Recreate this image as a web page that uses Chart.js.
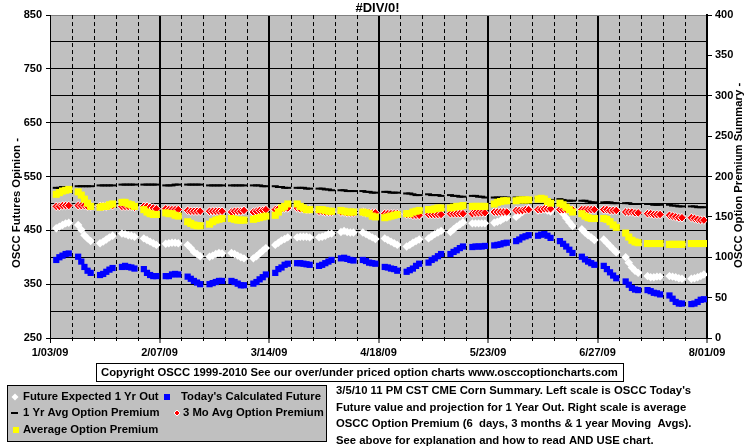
<!DOCTYPE html>
<html>
<head>
<meta charset="utf-8">
<script src="https://cdn.jsdelivr.net/npm/chart.js"></script>
<style>
  html, body { margin: 0; padding: 0; background: #fff; }
  #wrap { width: 755px; height: 446px; position: relative; }
</style>
</head>
<body>
<div id="wrap"><canvas id="oscc"></canvas></div>
<script>
// x axis: days since 1/03/09, weekly grid, labels every 5 weeks
const startDate = new Date(2009, 0, 3);
const totalDays = 210;
const xTickLabels = ['1/03/09', '2/07/09', '3/14/09', '4/18/09', '5/23/09', '6/27/09', '8/01/09'];
const leftTicks = [250, 850, 50];   // min, max, step
const rightTicks = [0, 400, 50];

// trading days (Mon-Fri) between the first and last label
const tradingDays = [];
for (let d = 0; d <= totalDays; d++) {
    const dt = new Date(startDate.getTime() + d * 86400000);
    const wd = dt.getDay();
    if (wd >= 1 && wd <= 5) tradingDays.push(d);
}

// left scale
const futureExpected = [
    454, 457, 460, 463, 464,  460, 451, 441, 435, 430,  426, 429, 433, 437, 440,  444, 443, 441, 440, 438,  435, 432, 429, 426, 423,
    425, 426, 427, 427, 426,  423, 417, 410, 406, 402,  401, 403, 406, 408, 407,  408, 406, 403, 400, 398,  398, 402, 407, 412, 417,
    423, 427, 431, 434, 437,  437, 438, 438, 438, 437,  437, 438, 440, 443, 444,  447, 449, 447, 446, 446,  446, 443, 440, 437, 434,
    435, 432, 429, 426, 423,  420, 423, 427, 430, 433,  435, 439, 443, 446, 449,  447, 452, 457, 461, 465,  463, 463, 463, 463, 463,
    464, 466, 468, 472, 474,  475, 480, 484, 488, 491,  487, 489, 489, 487, 485,  489, 481, 473, 465, 458,  452, 446, 441, 437, 432,
    433, 427, 421, 415, 409,  400, 390, 381, 375, 371,  365, 363, 363, 364, 364,  365, 364, 363, 361, 360,  360, 361, 363, 365, 368
];
const todaysFuture = [
    395, 400, 403, 406, 407,  401, 392, 382, 375, 371,  367, 369, 373, 377, 380,  382, 384, 382, 381, 379,  378, 371, 367, 365, 365,
    365, 365, 368, 369, 368,  364, 360, 356, 353, 350,  350, 352, 354, 356, 356,  356, 354, 351, 348, 348,  351, 354, 359, 363, 368,
    371, 378, 381, 386, 388,  389, 389, 388, 387, 386,  384, 386, 389, 392, 395,  398, 399, 397, 395, 394,  395, 393, 390, 389, 388,
    382, 381, 379, 378, 375,  373, 376, 379, 384, 388,  390, 395, 398, 402, 406,  406, 410, 413, 417, 420,  419, 420, 420, 420, 421,
    422, 423, 424, 426, 427,  430, 433, 437, 439, 441,  440, 442, 443, 440, 436,  430, 425, 420, 414, 408,  401, 396, 392, 389, 386,
    384, 378, 372, 366, 361,  355, 349, 343, 340, 339,  339, 337, 334, 333, 331,  329, 323, 317, 314, 314,  313, 314, 317, 321, 322
];
// right scale
const yearAvgPremium = [
    186, 186, 187, 187, 187,  188, 188, 188, 188, 188,  189, 189, 189, 189, 189,  190, 190, 190, 190, 190,  190, 190, 190, 190, 190,
    189, 189, 189, 190, 190,  190, 190, 190, 190, 190,  189, 189, 189, 189, 189,  189, 189, 189, 189, 189,  189, 189, 189, 188, 188,
    188, 187, 187, 186, 186,  186, 186, 186, 185, 185,  185, 185, 184, 184, 183,  183, 183, 182, 182, 182,  182, 181, 181, 180, 180,
    181, 181, 180, 180, 180,  179, 179, 178, 177, 177,  178, 177, 177, 177, 176,  177, 176, 176, 175, 175,  176, 176, 175, 175, 174,
    174, 174, 174, 174, 174,  174, 174, 174, 173, 173,  173, 173, 172, 172, 171,  172, 171, 170, 170, 170,  170, 170, 169, 168, 168,
    168, 168, 168, 167, 167,  167, 167, 166, 166, 166,  166, 166, 165, 165, 165,  165, 164, 164, 163, 163,  163, 163, 162, 162, 162
];
const moAvgPremium = [
    163, 163, 164, 164, 164,  164, 164, 164, 163, 163,  163, 163, 163, 164, 164,  163, 163, 163, 163, 162,  163, 163, 162, 161, 160,
    160, 159, 159, 159, 159,  158, 157, 157, 157, 157,  157, 157, 157, 157, 157,  156, 157, 157, 157, 158,  156, 157, 158, 158, 159,
    159, 160, 160, 161, 161,  161, 160, 160, 159, 159,  157, 157, 156, 156, 156,  156, 156, 155, 155, 155,  156, 155, 155, 155, 155,
    154, 154, 154, 154, 154,  153, 153, 152, 152, 152,  153, 153, 153, 153, 153,  154, 154, 154, 154, 154,  154, 155, 155, 155, 155,
    156, 156, 156, 156, 156,  158, 158, 158, 159, 159,  159, 159, 160, 160, 160,  159, 159, 159, 159, 159,  159, 159, 159, 159, 159,
    159, 159, 158, 158, 158,  156, 156, 156, 155, 155,  154, 154, 153, 153, 153,  152, 151, 150, 149, 149,  149, 148, 147, 146, 146
];
const avgPremium = [
    178, 180, 182, 183, 184,  181, 177, 172, 167, 163,  162, 163, 163, 165, 166,  168, 168, 166, 165, 163,  159, 156, 154, 153, 153,
    155, 154, 154, 152, 151,  144, 142, 140, 139, 139,  141, 144, 146, 147, 148,  148, 147, 146, 146, 146,  147, 148, 149, 150, 151,
    152, 156, 161, 163, 166,  166, 163, 161, 159, 159,  159, 159, 158, 157, 157,  158, 157, 156, 156, 156,  156, 155, 154, 151, 150,
    149, 150, 151, 152, 153,  154, 154, 156, 157, 158,  159, 159, 160, 161, 161,  161, 162, 163, 163, 164,  163, 163, 163, 163, 163,
    166, 168, 169, 170, 170,  170, 171, 171, 171, 171,  172, 173, 172, 169, 167,  167, 165, 162, 159, 156,  154, 151, 149, 148, 148,
    148, 147, 144, 140, 137,  130, 125, 121, 119, 118,  117, 117, 117, 117, 117,  116, 116, 116, 116, 116,  117, 117, 117, 117, 117
];

const titleText = '#DIV/0!';
const leftTitle = 'OSCC Futures Opinion -';
const rightTitle = 'OSCC Option Premium Summary -';
const copyrightText = 'Copyright OSCC 1999-2010 See our over/under priced option charts www.osccoptioncharts.com';
const noteLines = [
    "3/5/10 11 PM CST CME Corn Summary. Left scale is OSCC Today's",
    'Future value and projection for 1 Year Out. Right scale is average',
    'OSCC Option Premium (6  days, 3 months & 1 year Moving  Avgs).',
    'See above for explanation and how to read AND USE chart.'
];

const FONT = '"Liberation Sans", Arial, sans-serif';
const TEXT_FONT = 'bold 11.3px ' + FONT;
const PLOT_BG = '#c0c0c0';

function pts(values) {
    return tradingDays.map((d, i) => ({ x: d, y: values[i] }));
}

// drawn last = on top, so list the top-most series first
const datasets = [
    { label: 'Average Option Premium', data: pts(avgPremium), yAxisID: 'yR',
      pointStyle: 'rect', pointRadius: 5, backgroundColor: '#ffff00', borderColor: '#ffff00', borderWidth: 0 },
    { label: '3 Mo Avg Option Premium', data: pts(moAvgPremium), yAxisID: 'yR',
      pointStyle: 'rectRot', pointRadius: 4.3, backgroundColor: '#ff0000', borderColor: '#ffffff', borderWidth: 1 },
    { label: '1 Yr Avg Option Premium', data: pts(yearAvgPremium), yAxisID: 'yR',
      pointStyle: 'line', pointRadius: 3.5, backgroundColor: '#000000', borderColor: '#000000', borderWidth: 2 },
    { label: "Today's Calculated Future", data: pts(todaysFuture), yAxisID: 'y',
      pointStyle: 'rect', pointRadius: 4.4, backgroundColor: '#0000ff', borderColor: '#0000ff', borderWidth: 0 },
    { label: 'Future Expected 1 Yr Out', data: pts(futureExpected), yAxisID: 'y',
      pointStyle: 'rectRot', pointRadius: 4.2, backgroundColor: '#ffffff', borderColor: '#ffffff', borderWidth: 0 }
];

const ossPlugin = {
    id: 'osccDecor',
    beforeDraw(chart) {
        const ctx = chart.ctx;
        const a = chart.chartArea;
        ctx.save();
        ctx.fillStyle = '#ffffff';
        ctx.fillRect(0, 0, chart.width, chart.height);
        ctx.fillStyle = PLOT_BG;
        ctx.fillRect(a.left, a.top, a.right - a.left, a.bottom - a.top);
        ctx.restore();
    },
    beforeDatasetsDraw(chart) {
        // weekly dashed lines and small ticks
        const ctx = chart.ctx;
        const a = chart.chartArea;
        const xs = chart.scales.x;
        ctx.save();
        ctx.strokeStyle = '#000';
        ctx.lineWidth = 1;
        for (let d = 7; d < totalDays; d += 7) {
            if (d % 35 === 0) continue;
            const px = Math.round(xs.getPixelForValue(d)) + 0.5;
            ctx.setLineDash([4, 3]);
            ctx.beginPath();
            ctx.moveTo(px, a.top);
            ctx.lineTo(px, a.bottom);
            ctx.stroke();
            ctx.setLineDash([]);
            ctx.beginPath();
            ctx.moveTo(px, a.bottom);
            ctx.lineTo(px, a.bottom + 3);
            ctx.stroke();
        }
        ctx.restore();
    },
    afterDraw(chart) {
        const ctx = chart.ctx;
        ctx.save();
        ctx.fillStyle = '#000';
        ctx.font = TEXT_FONT;
        ctx.textBaseline = 'middle';

        // axis titles (both read bottom to top)
        ctx.save();
        ctx.translate(17, 268);
        ctx.rotate(-Math.PI / 2);
        ctx.textAlign = 'left';
        ctx.fillText(leftTitle, 0, 0);
        ctx.restore();
        ctx.save();
        ctx.translate(739, 268);
        ctx.rotate(-Math.PI / 2);
        ctx.textAlign = 'left';
        ctx.fillText(rightTitle, 0, 0);
        ctx.restore();

        // copyright box
        ctx.fillStyle = '#fff';
        ctx.fillRect(96, 363, 527, 19);
        ctx.strokeStyle = '#000';
        ctx.lineWidth = 1;
        ctx.strokeRect(96.5, 363.5, 527, 18);
        ctx.fillStyle = '#000';
        ctx.textAlign = 'left';
        ctx.fillText(copyrightText, 101, 373);

        // legend box
        ctx.fillStyle = PLOT_BG;
        ctx.fillRect(7, 385, 319, 56);
        ctx.strokeRect(7.5, 385.5, 319, 56);
        const byLabel = {};
        chart.data.datasets.forEach(ds => { byLabel[ds.label] = ds; });
        const slots = [
            ['Future Expected 1 Yr Out', 15, 397, 23],
            ["Today's Calculated Future", 167, 397, 181],
            ['1 Yr Avg Option Premium', 15, 413, 23],
            ['3 Mo Avg Option Premium', 177, 413, 183],
            ['Average Option Premium', 16, 430, 23]
        ];
        slots.forEach(([label, mx, my, tx]) => {
            const ds = byLabel[label];
            ctx.fillStyle = ds.backgroundColor;
            if (ds.pointStyle === 'rect') {
                ctx.fillRect(mx - 3, my - 3, 6, 6);
            } else if (ds.pointStyle === 'line') {
                ctx.fillRect(mx - 4, my - 1, 7, 2);
            } else {
                const r = ds.borderWidth ? 3 : 3.5;
                ctx.beginPath();
                ctx.moveTo(mx - r, my);
                ctx.lineTo(mx, my - r);
                ctx.lineTo(mx + r, my);
                ctx.lineTo(mx, my + r);
                ctx.closePath();
                ctx.fill();
                if (ds.borderWidth) {
                    ctx.strokeStyle = ds.borderColor;
                    ctx.stroke();
                }
            }
            ctx.fillStyle = '#000';
            ctx.fillText(label, tx, my);
        });

        // explanatory note
        noteLines.forEach((t, i) => ctx.fillText(t, 336, 391 + i * 16.5));
        ctx.restore();
    }
};

new Chart(document.getElementById('oscc'), {
    type: 'scatter',
    data: { datasets: datasets },
    plugins: [ossPlugin],
    options: {
        responsive: true,
        maintainAspectRatio: false,
        animation: false,
        devicePixelRatio: 1,
        layout: { padding: 0 },
        plugins: {
            legend: { display: false },
            tooltip: { enabled: false },
            title: {
                display: true,
                text: titleText,
                color: '#000',
                font: { family: FONT, size: 13, weight: 'bold', lineHeight: 1.08 },
                padding: { top: 1, bottom: 0 }
            }
        },
        scales: {
            x: {
                type: 'linear',
                position: 'bottom',
                min: 0,
                max: totalDays,
                afterFit: s => { s.height = 108; },
                ticks: {
                    stepSize: 35,
                    autoSkip: false,
                    maxRotation: 0,
                    padding: 3,
                    color: '#000',
                    font: { family: FONT, size: 11, weight: 'bold' },
                    callback: v => xTickLabels[Math.round(v / 35)]
                },
                grid: {
                    color: '#000',
                    lineWidth: c => (c.tick && c.tick.value === 0 ? 1 : 2),
                    tickLength: 5,
                    tickWidth: 1,
                    tickColor: '#000'
                },
                border: { display: true, color: '#000', width: 1 }
            },
            y: {
                position: 'left',
                min: leftTicks[0],
                max: leftTicks[1],
                afterFit: s => { s.width = 50; },
                ticks: {
                    stepSize: leftTicks[2],
                    autoSkip: false,
                    padding: 4,
                    color: '#000',
                    font: { family: FONT, size: 11, weight: 'bold' },
                    callback: v => ((v - leftTicks[0]) % 100 === 0 ? String(v) : '')
                },
                grid: {
                    color: c => (c.tick && c.tick.value === leftTicks[1] ? '#808080' : '#000'),
                    lineWidth: 1,
                    tickLength: 4,
                    tickColor: c => (c.tick && (c.tick.value - leftTicks[0]) % 100 === 0 ? '#000' : 'rgba(0,0,0,0)')
                },
                border: { display: true, color: '#000', width: 1 }
            },
            yR: {
                position: 'right',
                min: rightTicks[0],
                max: rightTicks[1],
                afterFit: s => { s.width = 48; },
                ticks: {
                    stepSize: rightTicks[2],
                    autoSkip: false,
                    padding: 3,
                    color: '#000',
                    font: { family: FONT, size: 11, weight: 'bold' }
                },
                grid: {
                    drawOnChartArea: false,
                    tickLength: 5,
                    tickColor: '#000'
                },
                border: { display: true, color: '#000', width: 2 }
            }
        }
    }
});
</script>
</body>
</html>
